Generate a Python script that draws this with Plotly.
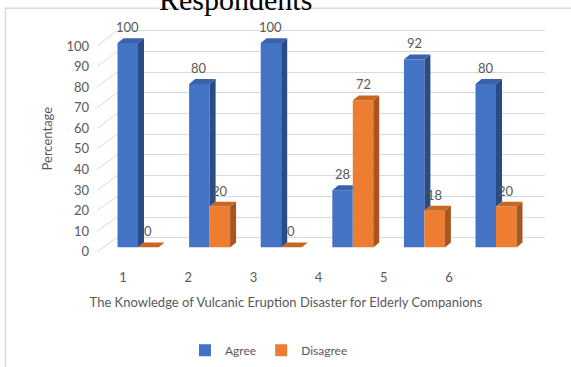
import plotly.graph_objects as go

# ---- data -------------------------------------------------------------
categories = [1, 2, 3, 4, 5, 6]
category_labels = ["1", "2", "3", "4", "5", "6"]
agree = [100, 80, 100, 28, 92, 80]
disagree = [0, 20, 0, 72, 18, 20]
y_ticks = list(range(0, 101, 10))

# ---- styling ----------------------------------------------------------
W, H = 571, 367
FONT = "Lato"
TEXT = "#595959"
GRID = "#D9D9D9"
BLUE, BLUE_SIDE, BLUE_TOP = "#4472C4", "#2B4B85", "#3A62AC"
ORANGE, ORANGE_SIDE, ORANGE_TOP = "#ED7D31", "#A9561E", "#C9661F"


def px_x(p):
    return p / W


def px_y(p):
    return 1 - p / H


# pixel geometry of the pseudo-3D frame
BAR_X0_PX, BAR_X1_PX = 102.2, 531.8          # bar axis range 0.5 .. 6.5
BAR_ZERO_PX, BAR_UNIT_PX = 253.0, 2.09       # bar front face scale
BAR_TOP_VAL = 115
FRONT_ZERO_PX, FRONT_UNIT_PX = 257.5, 2.105  # value-axis label scale
FRONT_TOP_VAL = 110
WALL_ZERO_PX, WALL_UNIT_PX = 243.0, 2.115    # back wall grid scale
DEPTH_X_PX, DEPTH_Y_PX = 6.0, 5.0            # extrusion depth of each bar

BAR_W = 0.286
DX = DEPTH_X_PX / ((BAR_X1_PX - BAR_X0_PX) / 6.0)
DY = DEPTH_Y_PX / BAR_UNIT_PX


def wall_in_front_units(v):
    """Back-wall height of value v expressed on the label-axis scale."""
    wall_px = WALL_ZERO_PX - WALL_UNIT_PX * v
    return (FRONT_ZERO_PX - wall_px) / FRONT_UNIT_PX


fig = go.Figure()

# back wall grid (subplot x/y)
fig.add_trace(go.Scatter(x=[0], y=[0], mode="markers", marker=dict(opacity=0),
                         hoverinfo="skip", showlegend=False, xaxis="x", yaxis="y"))

# front faces of the bars (subplot x2/y2)
fig.add_trace(go.Bar(name="Agree", x=categories, y=agree, width=BAR_W, offset=-BAR_W,
                     marker=dict(color=BLUE, line=dict(width=0)),
                     xaxis="x2", yaxis="y2"))
fig.add_trace(go.Bar(name="Disagree", x=categories, y=disagree, width=BAR_W, offset=0,
                     marker=dict(color=ORANGE, line=dict(width=0)),
                     xaxis="x2", yaxis="y2"))

# axis labels carrier (subplot x3/y3)
fig.add_trace(go.Scatter(x=categories, y=[0] * len(categories), mode="markers",
                         marker=dict(opacity=0), hoverinfo="skip", showlegend=False,
                         xaxis="x3", yaxis="y3"))

# slanted floor/side-wall lines joining the value axis to the back wall
dx_lines, dy_lines = [], []
for t in y_ticks:
    dx_lines += [0, 1, None]
    dy_lines += [t, wall_in_front_units(t), None]
fig.add_trace(go.Scatter(x=dx_lines, y=dy_lines, mode="lines",
                         line=dict(color=GRID, width=1), hoverinfo="skip",
                         showlegend=False, xaxis="x4", yaxis="y3"))


def poly(points):
    return "M " + " L ".join(f"{x},{y}" for x, y in points) + " Z"


shapes = []
for c, a, d in zip(categories, agree, disagree):
    ax0, ax1 = c - BAR_W, c
    dx0, dx1 = c, c + BAR_W
    # agree: side face only where it rises above the neighbouring bar
    if a > d:
        shapes.append(dict(type="path", xref="x2", yref="y2", layer="above",
                           path=poly([(ax1, d), (ax1 + DX, d + DY), (ax1 + DX, a + DY), (ax1, a)]),
                           fillcolor=BLUE_SIDE, line=dict(width=0)))
        top_right = ax1 + DX
    else:
        top_right = ax1
    shapes.append(dict(type="path", xref="x2", yref="y2", layer="above",
                       path=poly([(ax0, a), (ax0 + DX, a + DY), (top_right, a + DY), (ax1, a)]),
                       fillcolor=BLUE_TOP, line=dict(width=0)))
    # disagree: side and top faces
    shapes.append(dict(type="path", xref="x2", yref="y2", layer="above",
                       path=poly([(dx1, 0), (dx1 + DX, DY), (dx1 + DX, d + DY), (dx1, d)]),
                       fillcolor=ORANGE_SIDE, line=dict(width=0)))
    shapes.append(dict(type="path", xref="x2", yref="y2", layer="above",
                       path=poly([(dx0, d), (dx0 + DX, d + DY), (dx1 + DX, d + DY), (dx1, d)]),
                       fillcolor=ORANGE_TOP, line=dict(width=0)))

# chart frame
shapes.append(dict(type="rect", xref="paper", yref="paper",
                   x0=px_x(5.5), x1=1.05, y0=-0.05, y1=px_y(8.5),
                   line=dict(color="#D9D9D9", width=1.5), layer="below"))

annotations = []
for c, a, d in zip(categories, agree, disagree):
    for xv, v in ((c - BAR_W / 2, a), (c + BAR_W / 2, d)):
        annotations.append(dict(x=xv, y=v, xref="x2", yref="y2", text=str(v),
                                showarrow=False, yshift=16,
                                font=dict(family=FONT, size=13, color=TEXT)))

annotations.append(dict(text="Respondents", x=px_x(235), y=px_y(-1), xref="paper",
                        yref="paper", xanchor="center", yanchor="middle", showarrow=False,
                        font=dict(family="Liberation Serif", size=30, color="#000000")))

fig.update_layout(
    width=W, height=H,
    margin=dict(l=0, r=0, t=0, b=0),
    paper_bgcolor="white", plot_bgcolor="rgba(0,0,0,0)",
    barmode="overlay",
    font=dict(family=FONT, color=TEXT),
    shapes=shapes,
    annotations=annotations,
    showlegend=True,
    legend=dict(orientation="h", x=px_x(269), xanchor="center", y=px_y(358),
                yanchor="middle", font=dict(family=FONT, size=12, color=TEXT),
                bgcolor="rgba(0,0,0,0)", itemclick=False, itemwidth=30),
    xaxis=dict(domain=[px_x(117), px_x(545)], range=[0, 1], visible=False,
               anchor="y", fixedrange=True),
    yaxis=dict(domain=[px_y(WALL_ZERO_PX + WALL_UNIT_PX), px_y(WALL_ZERO_PX - 101 * WALL_UNIT_PX)],
               range=[-1, 101], anchor="x", tick0=0, dtick=10, showgrid=True,
               gridcolor=GRID, gridwidth=1, zeroline=False, showticklabels=False,
               ticks="", showline=False, fixedrange=True),
    xaxis2=dict(domain=[px_x(BAR_X0_PX), px_x(BAR_X1_PX)], range=[0.5, 6.5],
                visible=False, anchor="y2", fixedrange=True),
    yaxis2=dict(domain=[px_y(BAR_ZERO_PX), px_y(BAR_ZERO_PX - BAR_TOP_VAL * BAR_UNIT_PX)],
                range=[0, BAR_TOP_VAL], visible=False, anchor="x2", fixedrange=True),
    xaxis3=dict(domain=[px_x(90.4), px_x(481.6)], range=[0.5, 6.5],
                tickvals=categories, ticktext=category_labels,
                anchor="free", position=px_y(274), showgrid=False, zeroline=False,
                showline=False, ticks="", tickfont=dict(family=FONT, size=13, color=TEXT),
                title=dict(text="The Knowledge of Vulcanic Eruption Disaster for Elderly Companions",
                           font=dict(family=FONT, size=13, color=TEXT), standoff=13),
                fixedrange=True),
    yaxis3=dict(domain=[px_y(FRONT_ZERO_PX), px_y(FRONT_ZERO_PX - FRONT_TOP_VAL * FRONT_UNIT_PX)],
                range=[0, FRONT_TOP_VAL], tickvals=y_ticks,
                anchor="free", position=px_x(89), showgrid=False, zeroline=False,
                showline=False, ticks="", tickfont=dict(family=FONT, size=13, color=TEXT),
                title=dict(text="Percentage", font=dict(family=FONT, size=13, color=TEXT),
                           standoff=9),
                fixedrange=True),
    xaxis4=dict(domain=[px_x(97), px_x(117)], range=[0, 1], visible=False,
                anchor="y3", fixedrange=True),
)

fig.write_html("out.html")
